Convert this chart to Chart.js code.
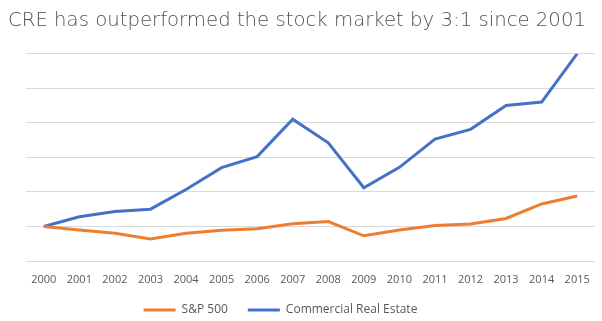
<!DOCTYPE html>
<html>
<head>
<meta charset="utf-8">
<script src="https://cdn.jsdelivr.net/npm/chart.js@4/dist/chart.umd.min.js"></script>
<style>
  html, body { margin: 0; padding: 0; background: #fff; }
  #wrap { width: 602px; height: 321px; }
</style>
</head>
<body>
<div id="wrap"><canvas id="myChart" width="602" height="321"></canvas></div>
<script>
// data (both series indexed to 100 in 2000)
const years = ['2000', '2001', '2002', '2003', '2004', '2005', '2006', '2007',
  '2008', '2009', '2010', '2011', '2012', '2013', '2014', '2015'];
const sp500 = [100, 90, 80, 64, 80, 89, 93, 108, 114, 73, 90, 103, 107, 123, 165, 188];
const cre = [100, 128, 143, 150, 207, 270, 302, 410, 342, 212, 271, 353, 381, 450, 460, 600];
const yTicks = [0, 100, 200, 300, 400, 500, 600];

Chart.defaults.font.family = 'Open Sans';
Chart.defaults.font.size = 12;
Chart.defaults.color = '#595959';

// legend in the original sits a bit left of centre
const legendShift = {
  id: 'legendShift',
  afterLayout(chart) {
    chart.legend.left -= 21;
    chart.legend.right -= 21;
  }
};

let ctx = document.getElementById('myChart').getContext('2d');

let chart = new Chart(ctx, {
  type: 'line',
  data: {
    labels: years,
    datasets: [{
      label: 'S&P 500',
      data: sp500,
      borderColor: '#ED7D31',
      backgroundColor: '#ED7D31',
      borderWidth: 3,
      pointRadius: 0,
      tension: 0
    }, {
      label: 'Commercial Real Estate',
      data: cre,
      borderColor: '#4472C4',
      backgroundColor: '#4472C4',
      borderWidth: 3,
      pointRadius: 0,
      tension: 0
    }]
  },
  plugins: [legendShift],
  options: {
    responsive: false,
    animation: false,
    layout: {
      padding: { left: 8, right: 7, top: 0, bottom: 0 }
    },
    scales: {
      x: {
        offset: true,
        afterFit: (axis) => { axis.height = 23; },
        grid: { display: false, drawTicks: false },
        border: { display: false },
        ticks: { maxRotation: 0, autoSkip: false, padding: 12, font: { size: 11 } }
      },
      y: {
        min: 0,
        max: 600,
        afterBuildTicks: (axis) => { axis.ticks = yTicks.map(v => ({ value: v })); },
        afterFit: (axis) => { axis.width = 18; },
        ticks: { display: false },
        grid: { color: '#d9d9d9', lineWidth: 1, drawTicks: false },
        border: { display: false }
      }
    },
    plugins: {
      title: {
        display: true,
        text: 'CRE has outperformed the stock market by 3:1 since 2001',
        align: 'start',
        color: '#505050',
        font: { family: 'DejaVu Sans', size: 19.7, weight: 200 },
        padding: { top: 9, bottom: 21 }
      },
      legend: {
        position: 'bottom',
        maxHeight: 37,
        labels: {
          usePointStyle: true,
          pointStyle: 'line',
          pointStyleWidth: 32,
          padding: 20,
          color: '#595959'
        }
      },
      tooltip: { enabled: false }
    }
  }
});
</script>
</body>
</html>
